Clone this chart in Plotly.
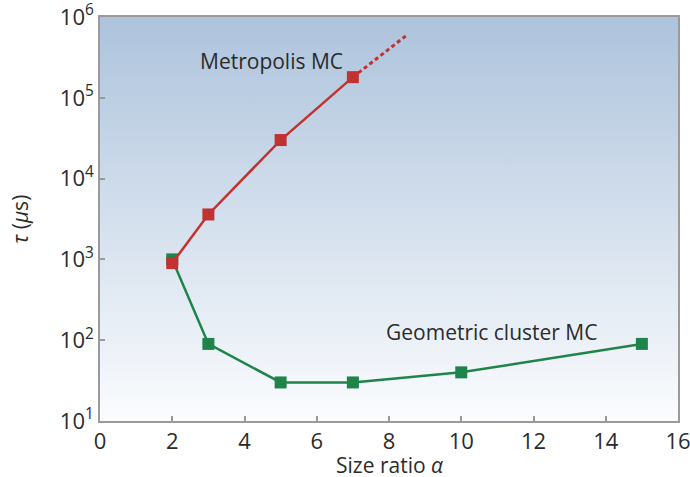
import plotly.graph_objects as go

# Data
metro_x = [2, 3, 5, 7]
metro_y = [900, 3600, 30000, 180000]
metro_ext_x = [7, 8.5]
metro_ext_y = [180000, 600000]
geo_x = [2, 3, 5, 7, 10, 15]
geo_y = [1000, 90, 30, 30, 40, 90]
ytick_vals = [10, 100, 1000, 10000, 100000, 1000000]
ytick_text = ["10<sup>1</sup>", "10<sup>2</sup>", "10<sup>3</sup>", "10<sup>4</sup>", "10<sup>5</sup>", "10<sup>6</sup>"]
xtick_vals = [0, 2, 4, 6, 8, 10, 12, 14, 16]

RED = "#c23230"
GREEN = "#1f8449"
FONT = "Open Sans"
TXT = "#2b2b2b"

fig = go.Figure()

# background gradient covering the axis ranges
fig.add_trace(go.Scatter(
    x=[0, 16, 16, 0, 0], y=[10, 10, 1e6, 1e6, 10],
    mode="lines", line=dict(width=0), fill="toself",
    fillgradient=dict(type="vertical",
                      colorscale=[[0, "#fbfcfe"], [1, "#adc3dc"]]),
    hoverinfo="skip", showlegend=False))

fig.add_trace(go.Scatter(
    x=geo_x, y=geo_y, mode="lines+markers",
    line=dict(color=GREEN, width=2.5),
    marker=dict(symbol="square", size=12, color=GREEN),
    showlegend=False))

fig.add_trace(go.Scatter(
    x=metro_ext_x, y=metro_ext_y, mode="lines",
    line=dict(color=RED, width=3, dash="4px,3px"),
    showlegend=False))

fig.add_trace(go.Scatter(
    x=metro_x, y=metro_y, mode="lines+markers",
    line=dict(color=RED, width=2.5),
    marker=dict(symbol="square", size=12, color=RED),
    showlegend=False))

fig.add_annotation(x=4.75, y=5.46, xref="x", yref="y", text="Metropolis MC",
                   showarrow=False, font=dict(family=FONT, size=21, color=TXT))
fig.add_annotation(x=10.85, y=2.1, xref="x", yref="y", text="Geometric cluster MC",
                   showarrow=False, font=dict(family=FONT, size=21, color=TXT))
# axis titles
fig.add_annotation(x=0.5, y=-0.109, xref="paper", yref="paper", text="Size ratio <i>α</i>",
                   showarrow=False, yanchor="middle",
                   font=dict(family=FONT, size=21, color=TXT))
fig.add_annotation(x=-0.139, y=0.5, xref="paper", yref="paper", text="<i>τ</i> (<i>μ</i>s)",
                   showarrow=False, xanchor="center", yanchor="middle", textangle=-90,
                   font=dict(family=FONT, size=21, color=TXT))

axis_common = dict(showline=True, linecolor="#9a9a9a", linewidth=1.5, mirror=True,
                   ticks="inside", ticklen=5, tickcolor="#9a9a9a", tickwidth=1.5,
                   showgrid=False, zeroline=False, automargin=False,
                   ticklabeloverflow="allow",
                   tickfont=dict(family=FONT, size=22, color=TXT))

fig.update_xaxes(range=[0, 16], tickvals=xtick_vals, **axis_common)
fig.update_yaxes(type="log", range=[1, 6], tickvals=ytick_vals, ticktext=ytick_text,
                 **axis_common)

fig.update_layout(width=690, height=477,
                  margin=dict(l=100, r=12, t=17, b=56),
                  paper_bgcolor="white", plot_bgcolor="white",
                  font=dict(family=FONT, color=TXT))

fig.write_html("out.html", config={"displayModeBar": False},
               post_script="document.body.style.margin='0px';document.body.style.overflow='hidden';")
